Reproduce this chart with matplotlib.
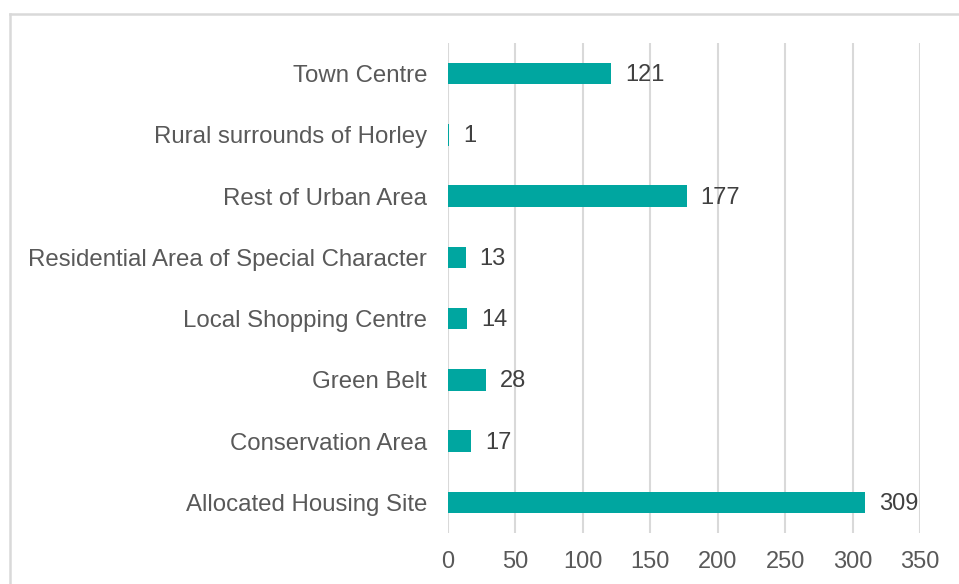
import matplotlib
matplotlib.use("Agg")
import matplotlib.pyplot as plt
from matplotlib.lines import Line2D

categories = ["Town Centre", "Rural surrounds of Horley", "Rest of Urban Area",
              "Residential Area of Special Character", "Local Shopping Centre",
              "Green Belt", "Conservation Area", "Allocated Housing Site"]
values = [121, 1, 177, 13, 14, 28, 17, 309]
xticks = [0, 50, 100, 150, 200, 250, 300, 350]

plt.rcParams['font.family'] = ['Liberation Sans', 'DejaVu Sans']

fig = plt.figure(figsize=(9.59, 5.84), dpi=100)
ax = fig.add_axes([448/959, 1-533/584, (920-448)/959, (533-43)/584])

ypos = list(range(len(categories)))
ax.barh(ypos, values, height=0.35, color="#00A6A0", zorder=3)
for y, v in zip(ypos, values):
    ax.annotate(str(v), (v, y), xytext=(10, -1), textcoords="offset points",
                va="center", ha="left", fontsize=17, color="#404040")

ax.set_ylim(len(categories)-0.5, -0.5)
ax.set_xlim(0, 350)
ax.set_yticks(ypos)
ax.set_yticklabels(categories, fontsize=17.3, color="#595959")
ax.set_xticks(xticks)
ax.set_xticklabels([str(t) for t in xticks], fontsize=17, color="#595959")
ax.tick_params(axis="both", length=0)
ax.tick_params(axis="y", pad=15)
ax.tick_params(axis="x", pad=13)
ax.grid(axis="x", color="#d9d9d9", linewidth=1.5, zorder=0)
for s in ax.spines.values():
    s.set_visible(False)

fig.add_artist(Line2D([9.5/959, 1], [1-14/584, 1-14/584], color="#d9d9d9", linewidth=1.8, transform=fig.transFigure))
fig.add_artist(Line2D([9.5/959, 9.5/959], [0, 1-14/584], color="#d9d9d9", linewidth=1.8, transform=fig.transFigure))

fig.savefig("out.png", dpi=100)
